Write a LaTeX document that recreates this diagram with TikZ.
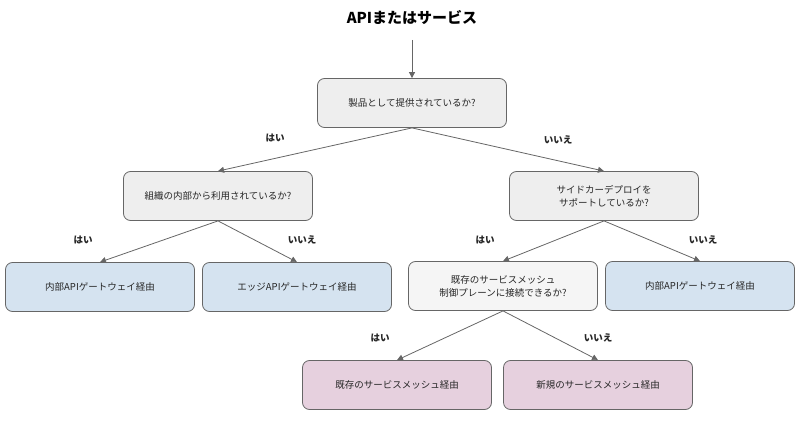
\documentclass[tikz,border=0pt]{standalone}
\usepackage{fontspec}
\setmainfont{Noto Sans CJK JP}
\usetikzlibrary{arrows.meta}

\definecolor{linegray}{HTML}{666666}
\definecolor{askfill}{HTML}{EEEEEE}
\definecolor{askfilltwo}{HTML}{F5F5F5}
\definecolor{gwfill}{HTML}{D5E3F0}
\definecolor{meshfill}{HTML}{E6D0DE}

\tikzset{
  box/.style={draw=linegray, rounded corners=7pt, minimum width=189pt, minimum height=49pt,
    align=center, font=\fontsize{9.5}{13}\selectfont, text=black!85, line width=0.8pt},
  ask/.style={box, fill=askfill},
  gateway/.style={box, fill=gwfill},
  mesh/.style={box, fill=meshfill},
  flow/.style={draw=linegray, line width=0.8pt, -{Triangle[length=6pt,width=6pt]}},
  answer/.style={font=\fontsize{9.5}{12}\selectfont\bfseries, text=black!85}
}

\begin{document}
\begin{tikzpicture}[x=1pt, y=-1pt]
  \useasboundingbox (0,0) rectangle (800,430);

  \node[font=\fontsize{15}{18}\selectfont\bfseries] (title) at (412,18) {APIまたはサービス};
  \coordinate (start) at (412,40);

  \node[ask] (product) at (412,103) {製品として提供されているか?};
  \node[ask] (internal) at (218,196) {組織の内部から利用されているか?};
  \node[ask] (sidecar) at (604,196) {サイドカーデプロイを\\サポートしているか?};

  \node[gateway] (gwA) at (100,287) {内部APIゲートウェイ経由};
  \node[gateway] (gwB) at (297,287) {エッジAPIゲートウェイ経由};
  \node[ask, fill=askfilltwo] (plane) at (503,286) {既存のサービスメッシュ\\制御プレーンに接続できるか?};
  \node[gateway] (gwC) at (700,286) {内部APIゲートウェイ経由};

  \node[mesh] (meshA) at (397,385) {既存のサービスメッシュ経由};
  \node[mesh] (meshB) at (598,385) {新規のサービスメッシュ経由};

  % connectors
  \draw[flow] (start) -- (product.north);
  \draw[flow] (product.south) -- (internal.north);
  \draw[flow] (product.south) -- (sidecar.north);
  \draw[flow] (internal.south) -- (gwA.north);
  \draw[flow] (internal.south) -- (gwB.north);
  \draw[flow] (sidecar.south) -- (plane.north);
  \draw[flow] (sidecar.south) -- (gwC.north);
  \draw[flow] (plane.south) -- (meshA.north);
  \draw[flow] (plane.south) -- (meshB.north);

  % answers
  \node[answer] (yes1) at (275,138) {はい};
  \node[answer] (no1) at (558,140) {いいえ};
  \node[answer] (yes2) at (83,240) {はい};
  \node[answer] (no2) at (302,240) {いいえ};
  \node[answer] (yes3) at (485,240) {はい};
  \node[answer] (no3) at (703,240) {いいえ};
  \node[answer] (yes4) at (380,338) {はい};
  \node[answer] (no4) at (598,338) {いいえ};
\end{tikzpicture}
\end{document}
